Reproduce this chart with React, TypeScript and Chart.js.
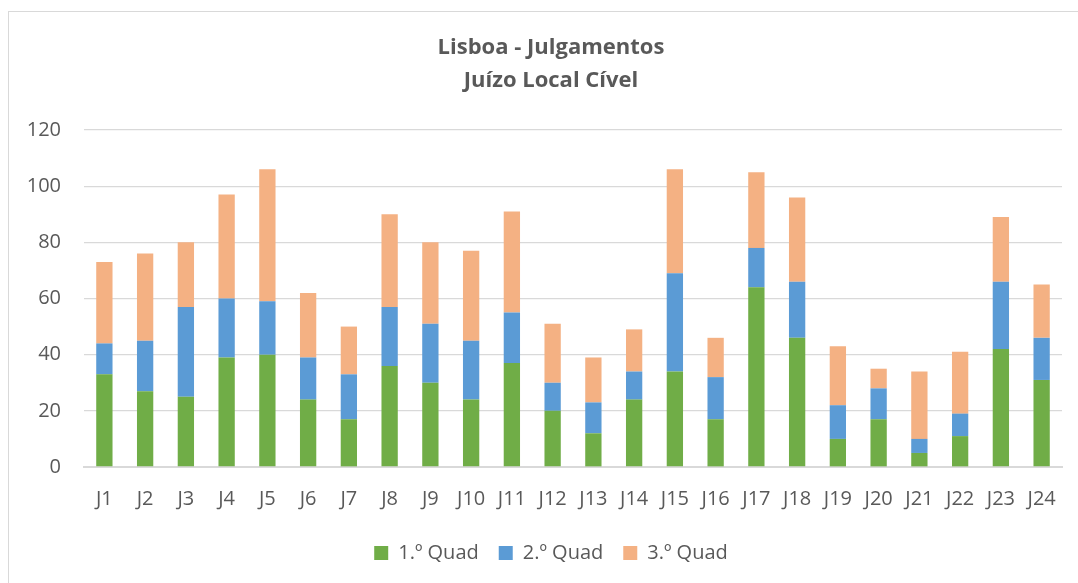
import React, { useEffect, useRef } from "react";
import { Chart, registerables } from "chart.js";

Chart.register(...registerables);

const categories = [
  "J1", "J2", "J3", "J4", "J5", "J6", "J7", "J8", "J9", "J10", "J11", "J12",
  "J13", "J14", "J15", "J16", "J17", "J18", "J19", "J20", "J21", "J22", "J23", "J24",
];
const quad1 = [33, 27, 25, 39, 40, 24, 17, 36, 30, 24, 37, 20, 12, 24, 34, 17, 64, 46, 10, 17, 5, 11, 42, 31];
const quad2 = [11, 18, 32, 21, 19, 15, 16, 21, 21, 21, 18, 10, 11, 10, 35, 15, 14, 20, 12, 11, 5, 8, 24, 15];
const quad3 = [29, 31, 23, 37, 47, 23, 17, 33, 29, 32, 36, 21, 16, 15, 37, 14, 27, 30, 21, 7, 24, 22, 23, 19];
const seriesNames = ["1.º Quad", "2.º Quad", "3.º Quad"];
const titleLines = ["Lisboa - Julgamentos", "Juízo Local Cível"];
const yMin = 0;
const yMax = 120;
const yStep = 20;

const FONT = "'Open Sans', 'Noto Sans', sans-serif";
const TEXT = "#595959";
const GRID = "#d9d9d9";

export default function App() {
  const ref = useRef<HTMLCanvasElement | null>(null);

  useEffect(() => {
    if (!ref.current) return;
    const chart = new Chart(ref.current, {
      type: "bar",
      data: {
        labels: categories,
        datasets: [
          { label: seriesNames[0], data: quad1, backgroundColor: "#70AD47" },
          { label: seriesNames[1], data: quad2, backgroundColor: "#5B9BD5" },
          { label: seriesNames[2], data: quad3, backgroundColor: "#F4B183" },
        ],
      },
      options: {
        responsive: false,
        animation: false,
        layout: { padding: { left: 40, right: 16, top: 0, bottom: 10 } },
        datasets: {
          bar: { categoryPercentage: 1, barPercentage: 0.4 },
        },
        plugins: {
          title: {
            display: true,
            text: titleLines,
            color: TEXT,
            font: { family: FONT, size: 22, weight: "bold", lineHeight: 1.5 },
            padding: { top: 31, bottom: 33 },
          },
          legend: {
            position: "bottom",
            labels: {
              color: TEXT,
              font: { family: FONT, size: 20 },
              boxWidth: 14,
              boxHeight: 14,
              padding: 20,
            },
          },
          tooltip: { enabled: false },
        },
        scales: {
          x: {
            stacked: true,
            grid: { display: false },
            border: { display: true, color: GRID, width: 2 },
            ticks: {
              color: TEXT,
              font: { family: FONT, size: 20, lineHeight: 1.0 },
              padding: 14,
              maxRotation: 0,
              autoSkip: false,
            },
          },
          y: {
            stacked: true,
            min: yMin,
            max: yMax,
            grid: { color: GRID, lineWidth: 1.3, drawTicks: false },
            border: { display: false },
            ticks: {
              stepSize: yStep,
              color: TEXT,
              font: { family: FONT, size: 20 },
              padding: 23,
            },
            afterFit: (scale: any) => {
              scale.width = 44;
              // let the tick labels extend left of the narrow axis box
              scale._computeLabelArea = () => undefined;
            },
          },
        },
      },
    });
    return () => chart.destroy();
  }, []);

  return (
    <div style={{ position: "fixed", left: 0, top: 0, width: 1078, height: 583, overflow: "hidden", background: "#fff" }}>
      <canvas ref={ref} width={1078} height={583} style={{ position: "absolute", left: 0, top: 0 }} />
      <div
        style={{
          position: "absolute",
          left: 8,
          top: 11,
          width: 1200,
          height: 800,
          border: "1px solid #d9d9d9",
          pointerEvents: "none",
        }}
      />
    </div>
  );
}
